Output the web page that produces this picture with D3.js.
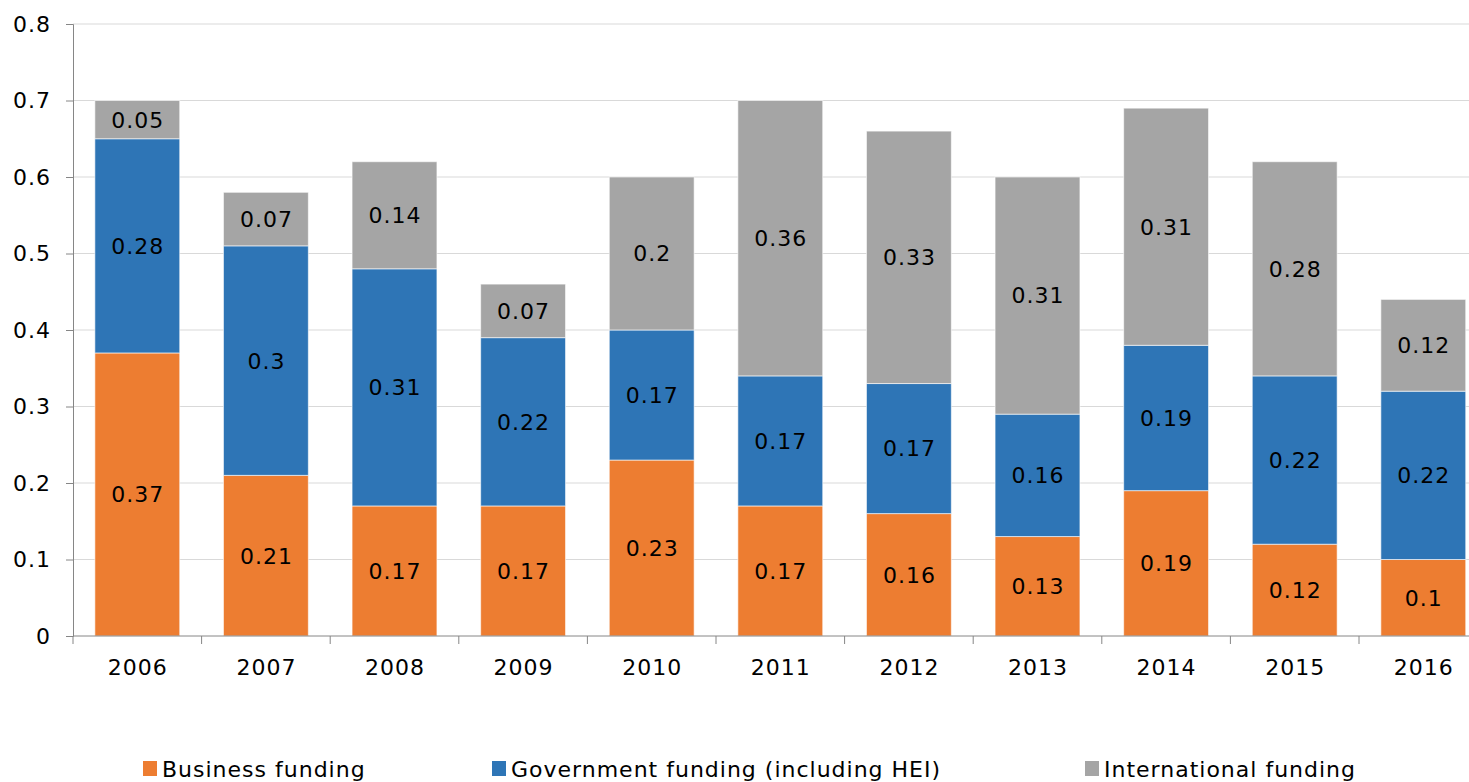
<!DOCTYPE html>
<html>
<head>
<meta charset="utf-8">
<script src="https://cdn.jsdelivr.net/npm/d3@7"></script>
<style>
  html, body { margin: 0; padding: 0; background: #fff; }
  svg { display: block; font-family: "DejaVu Sans", Verdana, sans-serif; }
  svg text { letter-spacing: 1px; }
</style>
</head>
<body>
<svg id="chart" width="1469" height="782"></svg>
<script>
// Funding shares by year
const years = ["2006","2007","2008","2009","2010","2011","2012","2013","2014","2015","2016"];
const business      = [0.37, 0.21, 0.17, 0.17, 0.23, 0.17, 0.16, 0.13, 0.19, 0.12, 0.10];
const government    = [0.28, 0.30, 0.31, 0.22, 0.17, 0.17, 0.17, 0.16, 0.19, 0.22, 0.22];
const international = [0.05, 0.07, 0.14, 0.07, 0.20, 0.36, 0.33, 0.31, 0.31, 0.28, 0.12];
const seriesNames = ["Business funding", "Government funding (including HEI)", "International funding"];
const yTicks = [0, 0.1, 0.2, 0.3, 0.4, 0.5, 0.6, 0.7, 0.8];

const colors = ["#ED7D31", "#2E75B6", "#A5A5A5"];

const svg = d3.select("#chart");
const plotLeft = 73, plotTop = 24, plotBottom = 636;
const bandStep = 128.6;
const plotRight = plotLeft + bandStep * years.length;

const x = d3.scaleBand().domain(years).range([plotLeft, plotRight]).paddingInner(0.34).paddingOuter(0.17);
const y = d3.scaleLinear().domain([0, 0.8]).range([plotBottom, plotTop]);

// gridlines
svg.append("g").selectAll("line").data(yTicks.slice(1)).join("line")
  .attr("x1", plotLeft).attr("x2", plotRight)
  .attr("y1", d => y(d)).attr("y2", d => y(d))
  .attr("stroke", "#d9d9d9").attr("stroke-width", 1);

// stacked data
const rows = years.map((yr, i) => ({ year: yr, b: business[i], g: government[i], n: international[i] }));
const stack = d3.stack().keys(["b", "g", "n"]);
const layers = stack(rows);

const gBars = svg.append("g");
layers.forEach((layer, li) => {
  gBars.append("g").selectAll("rect").data(layer).join("rect")
    .attr("x", d => x(d.data.year))
    .attr("width", x.bandwidth())
    .attr("y", d => y(d[1]))
    .attr("height", d => y(d[0]) - y(d[1]))
    .attr("fill", colors[li])
    .attr("stroke", "#ffffff").attr("stroke-opacity", 0.6).attr("stroke-width", 1);
});

// value labels
layers.forEach((layer, li) => {
  gBars.append("g").selectAll("text").data(layer).join("text")
    .attr("x", d => x(d.data.year) + x.bandwidth() / 2 + 0.5)
    .attr("y", d => y((d[0] + d[1]) / 2))
    .attr("dy", "0.36em")
    .attr("text-anchor", "middle")
    .attr("font-size", 22)
    .attr("fill", "#000")
    .text(d => String(+(d[1] - d[0]).toFixed(2)));
});

// y axis
const yAxis = d3.axisLeft(y).tickValues(yTicks).tickSize(7).tickPadding(15)
  .tickFormat(d => d === 0 ? "0" : String(d));
const gy = svg.append("g").attr("transform", `translate(${plotLeft},0)`).call(yAxis);
gy.select(".domain").attr("stroke", "#868686");
gy.selectAll(".tick line").attr("stroke", "#868686");
gy.selectAll(".tick text").attr("font-size", 22).attr("fill", "#000")
  .attr("font-family", "DejaVu Sans, Verdana, sans-serif");

// x axis with tick marks on band boundaries
const gx = svg.append("g").attr("transform", `translate(0,${plotBottom})`);
gx.append("line").attr("x1", plotLeft).attr("x2", plotRight).attr("y1", 0).attr("y2", 0)
  .attr("stroke", "#868686");
const boundaries = d3.range(years.length + 1).map(i => plotLeft + i * x.step());
gx.selectAll("line.tk").data(boundaries).join("line").attr("class", "tk")
  .attr("x1", d => d).attr("x2", d => d).attr("y1", 0).attr("y2", 8)
  .attr("stroke", "#868686");
gx.selectAll("text").data(years).join("text")
  .attr("x", d => x(d) + x.bandwidth() / 2 + 0.5)
  .attr("y", 39)
  .attr("text-anchor", "middle")
  .attr("font-size", 22)
  .attr("fill", "#000")
  .text(d => d);

// legend
const legendX = [143, 492, 1085];
const lg = svg.append("g");
seriesNames.forEach((name, i) => {
  lg.append("rect").attr("x", legendX[i]).attr("y", 761).attr("width", 14).attr("height", 15).attr("fill", colors[i]);
  lg.append("text").attr("x", legendX[i] + 19).attr("y", 777)
    .attr("font-size", 22).attr("fill", "#000").text(name);
});
</script>
</body>
</html>
